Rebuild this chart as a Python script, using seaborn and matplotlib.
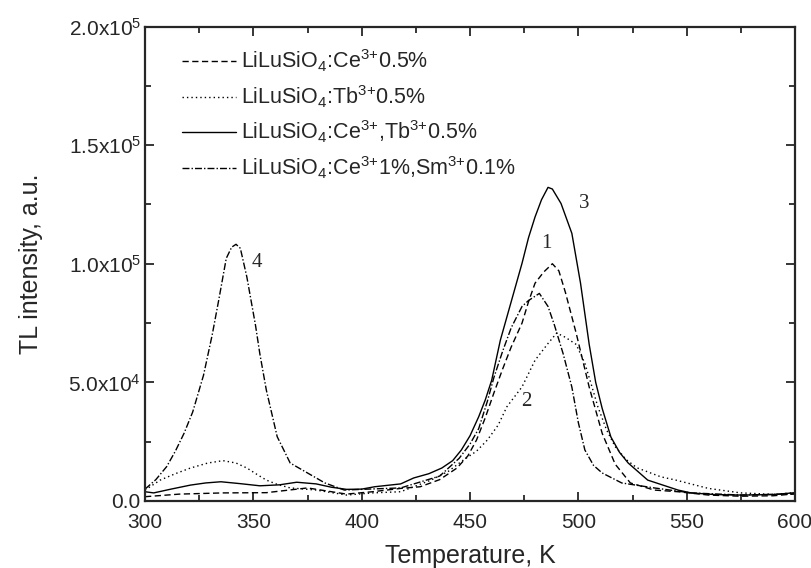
import numpy as np
import pandas as pd
import matplotlib
matplotlib.use("Agg")
import matplotlib.pyplot as plt
import seaborn as sns
from matplotlib.ticker import MultipleLocator, FuncFormatter

# curve 1: LiLuSiO4:Ce 0.5%
temp_ce = [300, 316, 336, 356, 375, 393, 405, 418, 427, 436, 444, 449, 453, 457, 461, 465, 469, 474,
           477, 480, 484, 488, 491, 494, 499, 505, 511, 517, 524, 535, 546, 560, 575, 590, 600]
tl_ce = [1800, 2900, 3400, 3500, 5500, 2900, 3900, 5300, 6000, 9000, 13900, 19000, 25700, 35000, 45500, 55500, 64900, 75000,
         84000, 91800, 96500, 100000, 97000, 88000, 70700, 48000, 28500, 15500, 7600, 4600, 3900, 2500, 2000, 2200, 3000]

# curve 2: LiLuSiO4:Tb 0.5%
temp_tb = [300, 307, 314, 321, 329, 336, 342, 347, 352, 356, 361, 367, 379, 393, 405, 418, 432, 440,
           447, 453, 458, 463, 467, 474, 480, 486, 490, 494, 499, 503, 506, 509, 513, 517, 522, 527, 538, 545, 560, 575, 590, 600]
tl_tb = [4600, 8800, 11500, 13900, 16000, 17000, 16000, 13900, 11000, 8800, 7000, 5500, 4600, 2500, 3400, 3900, 8800, 12500,
         17300, 21000, 25700, 32000, 39700, 48100, 59300, 66400, 70800, 69000, 66000, 58000, 49000, 39700, 30000, 22900, 17500, 14000, 10200, 8800, 5300, 3400, 2800, 3500]

# curve 3: LiLuSiO4:Ce,Tb 0.5%
temp_cetb = [300, 304, 312, 321, 328, 335, 344, 353, 362, 370, 379, 386, 393, 400, 406, 418, 424, 431, 437, 442, 446, 450, 454, 457, 460,
             464, 469, 474, 477, 480, 483, 486, 488, 492, 497, 501, 505, 508, 511, 515, 519, 523, 532, 546, 552, 563, 575, 590, 600]
tl_cetb = [3900, 3400, 5000, 6700, 7600, 8100, 7300, 6400, 6800, 7900, 7200, 5800, 4900, 5000, 6000, 7200, 9700, 11500, 13900, 17000, 21500, 27500, 35500, 42500, 50900,
           67800, 84000, 100200, 111000, 119700, 127000, 132200, 131500, 125400, 112800, 91800, 66000, 50000, 39000, 27000, 20500, 16000, 8800, 4600, 3400, 2700, 2500, 2700, 3500]

# curve 4: LiLuSiO4:Ce 1%, Sm 0.1%
temp_cesm = [300, 305, 310, 314, 318, 322, 327, 331, 334, 337.5, 340, 342, 344, 347, 351, 353, 356, 361, 367, 375, 383, 392, 400, 418,
             436, 445, 450, 454, 458, 461, 465, 469, 474, 477, 482, 486, 489, 493, 497, 500, 503, 507, 511, 520, 535, 552, 575, 600]
tl_cesm = [5000, 9000, 14500, 21000, 28500, 37500, 53000, 70000, 84600, 102300, 107000, 108200, 106500, 94400, 74000, 62000, 46700, 27100, 16000, 11800, 7600, 4600, 4900, 5500,
           10500, 18000, 24000, 30500, 42000, 52000, 63000, 73000, 82000, 84500, 87500, 82000, 74000, 62000, 48000, 33000, 21500, 15000, 11800, 7600, 5500, 3400, 2500, 3000]

labels = ["LiLuSiO$_4$:Ce$^{3{+}}$0.5%",
          "LiLuSiO$_4$:Tb$^{3{+}}$0.5%",
          "LiLuSiO$_4$:Ce$^{3{+}}$,Tb$^{3{+}}$0.5%",
          "LiLuSiO$_4$:Ce$^{3{+}}$1%,Sm$^{3{+}}$0.1%"]
curve_numbers = ["1", "2", "3", "4"]

sns.set_style("ticks")
plt.rcParams["font.family"] = ["Liberation Sans", "DejaVu Sans"]
plt.rcParams["mathtext.fontset"] = "custom"
plt.rcParams["mathtext.rm"] = "Liberation Sans"
plt.rcParams["mathtext.it"] = "Liberation Sans"
plt.rcParams["mathtext.bf"] = "Liberation Sans"

fig = plt.figure(figsize=(8.12, 5.68), dpi=100)
ax = fig.add_axes([0.1786, 0.118, 0.8005, 0.8353])

styles = [(0, (4.5, 2.5)), (0, (1, 2.2)), "-", (0, (5, 1.5, 1, 1.5))]
series = [(temp_ce, tl_ce), (temp_tb, tl_tb), (temp_cetb, tl_cetb), (temp_cesm, tl_cesm)]
for (t, v), ls, lab in zip(series, styles, labels):
    sns.lineplot(x=t, y=v, ax=ax, color="black", linewidth=1.0, linestyle=ls,
                 label=lab, sort=False, estimator=None)

ax.set_xlim(300, 600)
ax.set_ylim(0, 200000)
ax.xaxis.set_major_locator(MultipleLocator(50))
ax.xaxis.set_minor_locator(MultipleLocator(25))
ax.yaxis.set_major_locator(MultipleLocator(50000))
ax.yaxis.set_minor_locator(MultipleLocator(25000))


def yfmt(v, pos):
    if v <= 0:
        return "0.0"
    e = int(np.floor(np.log10(v)))
    return "%.1fx10$^{%d}$" % (v / 10 ** e, e)


ax.yaxis.set_major_formatter(FuncFormatter(yfmt))
ax.tick_params(which="both", direction="in", top=True, right=True, width=1.3, labelsize=15)
ax.tick_params(which="major", length=6.5)
ax.tick_params(which="minor", length=4.5)
ax.tick_params(axis="x", pad=9)
ax.tick_params(axis="y", pad=3)
for s in ax.spines.values():
    s.set_linewidth(1.6)

ax.set_xlabel("Temperature, K", fontsize=18, labelpad=8)
ax.set_ylabel("TL intensity, a.u.", fontsize=18, labelpad=18)

# curve numbers
num_pos = [(485, 108700), (476, 41900), (502.8, 125600), (351.7, 100500)]
for n, (tx, ty) in zip(curve_numbers, num_pos):
    ax.text(tx, ty, n, fontsize=15, family="Liberation Serif", ha="center", va="center")

ax.legend(loc="upper left", bbox_to_anchor=(0.057, 0.955), frameon=False, fontsize=15.5,
          handlelength=2.5, handletextpad=0.25, labelspacing=0.42, borderpad=0, borderaxespad=0)

fig.savefig("out.png", dpi=100)
